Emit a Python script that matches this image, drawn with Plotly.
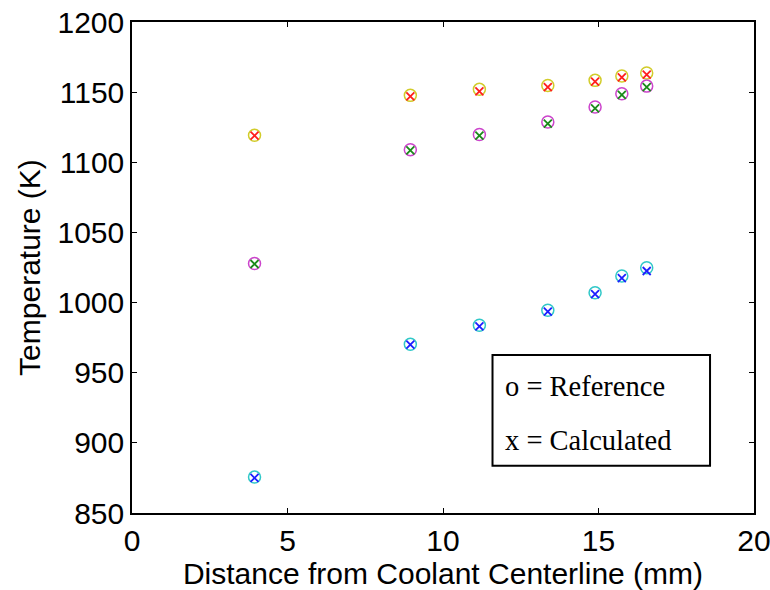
import plotly.graph_objects as go

x_mm = [3.94, 8.95, 11.17, 13.37, 14.89, 15.75, 16.55]

ref_top = [1119.3, 1147.7, 1152.0, 1154.8, 1158.4, 1161.5, 1163.6]
ref_mid = [1027.9, 1109.0, 1119.8, 1128.7, 1139.4, 1148.9, 1154.3]
ref_bot = [875.6, 970.3, 983.8, 994.5, 1007.0, 1018.9, 1024.8]

calc_top = [1119.0, 1147.0, 1150.5, 1153.5, 1157.5, 1160.5, 1162.5]
calc_mid = [1027.5, 1108.5, 1119.0, 1127.5, 1138.5, 1148.0, 1153.5]
calc_bot = [875.0, 970.0, 983.0, 993.5, 1006.0, 1017.5, 1022.5]

x_ticks = [0, 5, 10, 15, 20]
y_ticks = [850, 900, 950, 1000, 1050, 1100, 1150, 1200]

fig = go.Figure()

ref_series = [(ref_top, "#d2cc2a"), (ref_mid, "#cc44cc"), (ref_bot, "#30c8c8")]
calc_series = [(calc_top, "#ff1e1e"), (calc_mid, "#1a8a1a"), (calc_bot, "#1e1eff")]

for vals, col in ref_series:
    fig.add_trace(go.Scatter(x=x_mm, y=vals, mode="markers",
                             marker=dict(symbol="circle-open", size=12, color=col,
                                         line=dict(width=1.5, color=col)),
                             showlegend=False))
for vals, col in calc_series:
    fig.add_trace(go.Scatter(x=x_mm, y=vals, mode="markers",
                             marker=dict(symbol="x-thin-open", size=8, color=col,
                                         line=dict(width=1.8, color=col)),
                             showlegend=False))

W, H = 770, 590
L, R, T, B = 131.5, 16, 22, 77
pw, ph = W - L - R, H - T - B

def px_to_paper(xp, yp):
    return (xp - L) / pw, (H - B - yp) / ph

x0, y0 = px_to_paper(492.3, 465.7)
x1, y1 = px_to_paper(710, 355)
fig.add_shape(type="rect", xref="paper", yref="paper", x0=x0, y0=y0, x1=x1, y1=y1,
              line=dict(color="black", width=2), fillcolor="white")

for text, yp in [("o = Reference", 386.7), ("x = Calculated", 440)]:
    ax, ay = px_to_paper(503, yp)
    fig.add_annotation(text=text, xref="paper", yref="paper", x=ax, y=ay,
                       xanchor="left", yanchor="middle", showarrow=False,
                       font=dict(family="Liberation Serif", size=28.5, color="black"))

FS = 30
axis_common = dict(showgrid=False, zeroline=False, showline=True, linecolor="black",
                   linewidth=1.5, mirror="ticks", ticks="inside", ticklen=5,
                   tickcolor="black", ticklabeloverflow="allow",
                   tickfont=dict(family="Liberation Sans", size=FS, color="black"))

fig.update_xaxes(range=[0, 20], tickvals=x_ticks, ticklabelstandoff=0,
                 title=dict(text="Distance from Coolant Centerline (mm)", standoff=3,
                            font=dict(family="Liberation Sans", size=FS, color="black")),
                 **axis_common)
fig.update_yaxes(range=[850, 1200], tickvals=y_ticks,
                 title=dict(text="Temperature (K)", standoff=8,
                            font=dict(family="Liberation Sans", size=FS, color="black")),
                 **axis_common)

fig.update_layout(width=W, height=H, plot_bgcolor="white", paper_bgcolor="white",
                  margin=dict(l=L, r=R, t=T, b=B, autoexpand=False))

fig.write_html("out.html")
